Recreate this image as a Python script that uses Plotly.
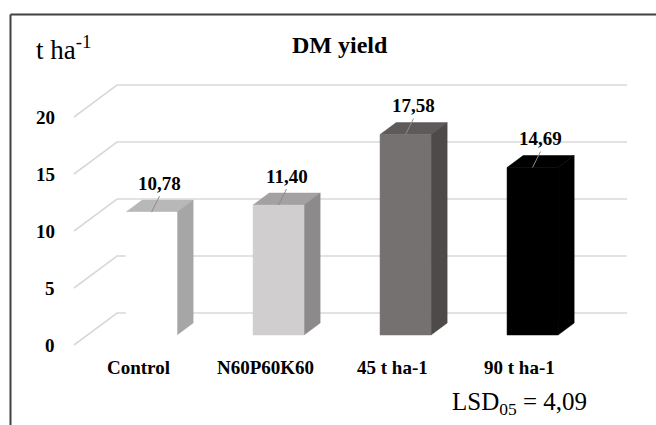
import plotly.graph_objects as go

# Dry-matter yield per treatment (t ha-1)
categories = ["Control", "N60P60K60", "45 t ha-1", "90 t ha-1"]
yields = [10.78, 11.40, 17.58, 14.69]
y_ticks = [0, 5, 10, 15, 20]
lsd_value = 4.09

# Face colours for each bar: (front, top, side)
bar_colors = [
    ("#ffffff", "#b8b8b8", "#a6a6a6"),
    ("#d0cece", "#a3a1a1", "#8c8a8a"),
    ("#767171", "#5e5a5a", "#4e4a4a"),
    ("#000000", "#000000", "#000000"),
]

FONT = "Liberation Serif"
W, H = 656, 425

# Oblique projection: depth d in [0, 1] shifts right and up
DX = 43 / 127      # x shift (category units) at full depth
DY = 32 / 11.4     # y shift (value units) at full depth
BF, BB = 0.3125, 0.6875   # bar front / back depth
HW = 0.2008               # half width of a bar front face
XL, XR = -0.5047, 3.511   # floor / wall extent


def P(x, v, d):
    return x + d * DX, v + d * DY


fig = go.Figure()


def poly(points, color, lw=0.0):
    xs = [p[0] for p in points] + [points[0][0]]
    ys = [p[1] for p in points] + [points[0][1]]
    fig.add_trace(go.Scatter(
        x=xs, y=ys, mode="lines", fill="toself", fillcolor=color,
        line=dict(color=color, width=lw), hoverinfo="skip", showlegend=False,
    ))


def line(points, color, width):
    fig.add_trace(go.Scatter(
        x=[p[0] for p in points], y=[p[1] for p in points], mode="lines",
        line=dict(color=color, width=width), hoverinfo="skip", showlegend=False,
    ))


# Gridlines: floor diagonal + back wall
for v in y_ticks:
    line([P(XL, v, 0), P(XL, v, 1), P(XR, v, 1)], "#d9d9d9", 1.6)

# 3D bars
for i, (v, (cf, ct, cs)) in enumerate(zip(yields, bar_colors)):
    poly([P(i - HW, v, BF), P(i + HW, v, BF), P(i + HW, v, BB), P(i - HW, v, BB)], ct, 0.5)
    poly([P(i + HW, 0, BF), P(i + HW, 0, BB), P(i + HW, v, BB), P(i + HW, v, BF)], cs, 0.5)
    poly([P(i - HW, 0, BF), P(i + HW, 0, BF), P(i + HW, v, BF), P(i - HW, v, BF)], cf, 0.5)

annotations = []

# Data labels with leader lines
for i, v in enumerate(yields):
    bx, by = P(i, v, BF)
    line([(bx, by), (bx + 8 / 127, by + 16 / 11.4)], "#8c8c8c", 1)
    annotations.append(dict(
        x=bx + 8 / 127, y=by + 29 / 11.4, xref="x", yref="y",
        text="<b>" + f"{v:.2f}".replace(".", ",") + "</b>", showarrow=False,
        xanchor="center", yanchor="middle",
        font=dict(family=FONT, size=19, color="#000000"),
    ))

# Value axis labels
for v in y_ticks:
    annotations.append(dict(
        x=XL - 17 / 127, y=v, xref="x", yref="y", text=f"<b>{v}</b>",
        showarrow=False, xanchor="right", yanchor="middle",
        font=dict(family=FONT, size=19, color="#000000"),
    ))

# Category labels
for i, c in enumerate(categories):
    annotations.append(dict(
        x=i, y=0, xref="x", yref="y", yshift=-22, text=f"<b>{c}</b>",
        showarrow=False, xanchor="center", yanchor="middle",
        font=dict(family=FONT, size=19, color="#000000"),
    ))

# Title, unit and LSD note
annotations += [
    dict(x=340 / W, y=1 - 45 / H, xref="paper", yref="paper", text="<b>DM yield</b>",
         showarrow=False, xanchor="center", yanchor="middle",
         font=dict(family=FONT, size=24, color="#000000")),
    dict(x=34 / W, y=1 - 48 / H, xref="paper", yref="paper", text="t ha<sup>-1</sup>",
         showarrow=False, xanchor="left", yanchor="middle",
         font=dict(family=FONT, size=27, color="#000000")),
    dict(x=450 / W, y=1 - 403 / H, xref="paper", yref="paper",
         text="LSD<sub>05</sub> = " + f"{lsd_value:.2f}".replace(".", ","),
         showarrow=False, xanchor="left", yanchor="middle",
         font=dict(family=FONT, size=25, color="#000000")),
]

# Chart frame (left and top edges)
shapes = [
    dict(type="line", xref="paper", yref="paper", x0=10.5 / W, x1=10.5 / W,
         y0=-0.1, y1=1 - 14.5 / H, line=dict(color="#404040", width=2)),
    dict(type="line", xref="paper", yref="paper", x0=10.5 / W, x1=1.1,
         y0=1 - 14.5 / H, y1=1 - 14.5 / H, line=dict(color="#404040", width=2)),
]

fig.update_layout(
    width=W, height=H,
    margin=dict(l=0, r=0, t=0, b=0),
    paper_bgcolor="#ffffff", plot_bgcolor="#ffffff",
    xaxis=dict(range=[-138.1 / 127, (W - 138.1) / 127], visible=False, fixedrange=True),
    yaxis=dict(range=[(345 - H) / 11.4, 345 / 11.4], visible=False, fixedrange=True),
    annotations=annotations, shapes=shapes, showlegend=False,
)

fig.write_html("out.html")
